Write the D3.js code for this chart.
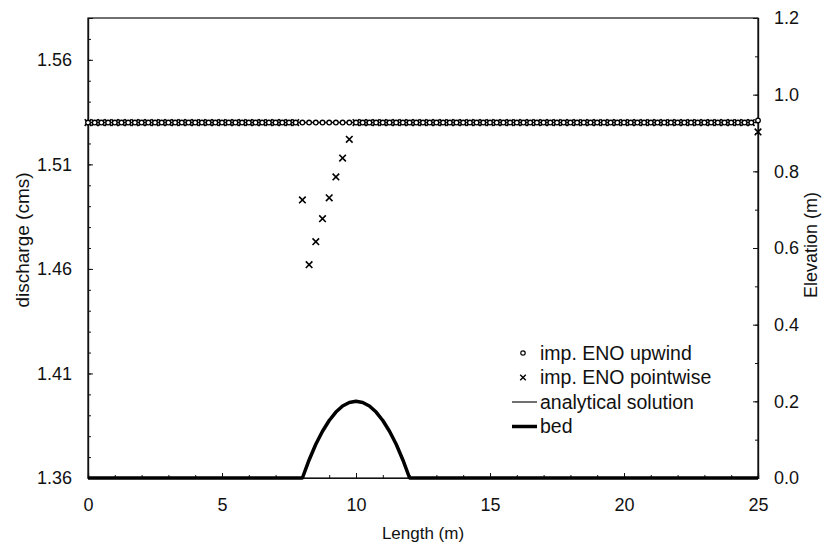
<!DOCTYPE html>
<html>
<head>
<meta charset="utf-8">
<script src="https://cdn.jsdelivr.net/npm/d3@7"></script>
<style>
  body { margin: 0; background: #fff; }
  text { font-family: "Liberation Sans", Arial, sans-serif; fill: #111; }
</style>
</head>
<body>
<svg id="chart" width="829" height="545"></svg>
<script>
// stations along the channel (m), every 0.25 m
const stations = d3.range(0, 25.001, 0.25);

// discharge, implicit ENO upwind (cms)
const upwindQ = [
  1.53, 1.53, 1.53, 1.53, 1.53, 1.53, 1.53, 1.53, 1.53, 1.53,
  1.53, 1.53, 1.53, 1.53, 1.53, 1.53, 1.53, 1.53, 1.53, 1.53,
  1.53, 1.53, 1.53, 1.53, 1.53, 1.53, 1.53, 1.53, 1.53, 1.53,
  1.53, 1.53, 1.53, 1.53, 1.53, 1.53, 1.53, 1.53, 1.53, 1.53,
  1.53, 1.53, 1.53, 1.53, 1.53, 1.53, 1.53, 1.53, 1.53, 1.53,
  1.53, 1.53, 1.53, 1.53, 1.53, 1.53, 1.53, 1.53, 1.53, 1.53,
  1.53, 1.53, 1.53, 1.53, 1.53, 1.53, 1.53, 1.53, 1.53, 1.53,
  1.53, 1.53, 1.53, 1.53, 1.53, 1.53, 1.53, 1.53, 1.53, 1.53,
  1.53, 1.53, 1.53, 1.53, 1.53, 1.53, 1.53, 1.53, 1.53, 1.53,
  1.53, 1.53, 1.53, 1.53, 1.53, 1.53, 1.53, 1.53, 1.53, 1.53,
  1.531
];

// discharge, implicit ENO pointwise (cms)
const pointwiseQ = [
  1.53, 1.53, 1.53, 1.53, 1.53, 1.53, 1.53, 1.53, 1.53, 1.53,
  1.53, 1.53, 1.53, 1.53, 1.53, 1.53, 1.53, 1.53, 1.53, 1.53,
  1.53, 1.53, 1.53, 1.53, 1.53, 1.53, 1.53, 1.53, 1.53, 1.53,
  1.53, 1.53, 1.493, 1.462, 1.473, 1.484, 1.494, 1.504, 1.513, 1.522,
  1.53, 1.53, 1.53, 1.53, 1.53, 1.53, 1.53, 1.53, 1.53, 1.53,
  1.53, 1.53, 1.53, 1.53, 1.53, 1.53, 1.53, 1.53, 1.53, 1.53,
  1.53, 1.53, 1.53, 1.53, 1.53, 1.53, 1.53, 1.53, 1.53, 1.53,
  1.53, 1.53, 1.53, 1.53, 1.53, 1.53, 1.53, 1.53, 1.53, 1.53,
  1.53, 1.53, 1.53, 1.53, 1.53, 1.53, 1.53, 1.53, 1.53, 1.53,
  1.53, 1.53, 1.53, 1.53, 1.53, 1.53, 1.53, 1.53, 1.53, 1.53,
  1.5255
];

// analytical solution (cms)
const analyticX = [0, 25];
const analyticQ = [1.53, 1.53];

// bed elevation (m)
const bedX = [0, 8, 8.25, 8.5, 8.75, 9, 9.25, 9.5, 9.75, 10,
  10.25, 10.5, 10.75, 11, 11.25, 11.5, 11.75, 12, 25];
const bedZ = [0, 0, 0.047, 0.088, 0.122, 0.15, 0.172, 0.188, 0.197, 0.2,
  0.197, 0.188, 0.172, 0.15, 0.122, 0.088, 0.047, 0, 0];

const xTicks = [0, 5, 10, 15, 20, 25];
const qTicks = [1.36, 1.41, 1.46, 1.51, 1.56];
const zTicks = [0, 0.2, 0.4, 0.6, 0.8, 1.0, 1.2];

const legendLabels = ["imp. ENO upwind", "imp. ENO pointwise", "analytical solution", "bed"];

const margin = { top: 18, right: 71, bottom: 67, left: 88 };
const svg = d3.select("#chart");
const width = 829 - margin.left - margin.right;
const height = 545 - margin.top - margin.bottom;

const g = svg.append("g")
  .attr("transform", `translate(${margin.left}, ${margin.top})`);

const x = d3.scaleLinear().domain([0, 25]).range([0, width]);
const yQ = d3.scaleLinear().domain([1.36, 1.58]).range([height, 0]);
const yZ = d3.scaleLinear().domain([0, 1.2]).range([height, 0]);

// frame
g.append("rect")
  .attr("width", width)
  .attr("height", height)
  .attr("fill", "none")
  .attr("stroke", "#111")
  .attr("stroke-width", 1.2);

// minor ticks (inward)
const minor = (axis, vals) => axis.tickValues(vals).tickSize(-3).tickFormat("");
g.append("g").attr("transform", `translate(0, ${height})`)
  .call(minor(d3.axisBottom(x), d3.range(0, 25.01, 1)));
g.append("g")
  .call(minor(d3.axisLeft(yQ), d3.range(1.36, 1.5801, 0.01)));
g.append("g").attr("transform", `translate(${width}, 0)`)
  .call(minor(d3.axisRight(yZ), d3.range(0, 1.201, 0.1)));

// major axes
g.append("g")
  .attr("transform", `translate(0, ${height})`)
  .call(d3.axisBottom(x).tickValues(xTicks).tickSize(-5).tickPadding(20).tickFormat(d3.format("d")));

g.append("g")
  .call(d3.axisLeft(yQ).tickValues(qTicks).tickSize(-5).tickPadding(16).tickFormat(d3.format(".2f")));

g.append("g")
  .attr("transform", `translate(${width}, 0)`)
  .call(d3.axisRight(yZ).tickValues(zTicks).tickSize(-5).tickPadding(16).tickFormat(d3.format(".1f")));

g.selectAll(".domain").attr("stroke", "#111").attr("stroke-width", 1.2);
g.selectAll(".tick line").attr("stroke", "#111");
g.selectAll(".tick text").style("font-size", "18px").attr("fill", "#111");

// axis titles
g.append("text")
  .attr("x", width / 2)
  .attr("y", height + 61)
  .attr("text-anchor", "middle")
  .style("font-size", "17px")
  .text("Length (m)");

g.append("text")
  .attr("transform", `translate(${22 - margin.left}, ${240 - margin.top}) rotate(-90)`)
  .attr("text-anchor", "middle")
  .attr("dy", "0.35em")
  .style("font-size", "19px")
  .text("discharge (cms)");

g.append("text")
  .attr("transform", `translate(${width + 53}, ${245 - margin.top}) rotate(-90)`)
  .attr("text-anchor", "middle")
  .attr("dy", "0.35em")
  .style("font-size", "18px")
  .text("Elevation (m)");

// analytical solution line
const lineQ = d3.line().x((d) => x(d[0])).y((d) => yQ(d[1]));
g.append("path")
  .datum(analyticX.map((d, i) => [d, analyticQ[i]]))
  .attr("d", lineQ)
  .attr("fill", "none")
  .attr("stroke", "#111")
  .attr("stroke-width", 1.4);

// bed
const lineZ = d3.line().x((d) => x(d[0])).y((d) => yZ(d[1]));
g.append("path")
  .datum(bedX.map((d, i) => [d, bedZ[i]]))
  .attr("d", lineZ)
  .attr("fill", "none")
  .attr("stroke", "#000")
  .attr("stroke-width", 3.5)
  .attr("stroke-linejoin", "round");

// pointwise x markers
const cross = d3.symbol().type(d3.symbolX).size(30);
g.append("g")
  .selectAll("path")
  .data(stations.map((d, i) => [d, pointwiseQ[i]]))
  .enter()
  .append("path")
  .attr("transform", (d) => `translate(${x(d[0])}, ${yQ(d[1])})`)
  .attr("d", cross)
  .attr("fill", "#000")
  .attr("stroke", "#000")
  .attr("stroke-width", 1.6);

// upwind circles
g.append("g")
  .selectAll("circle")
  .data(stations.map((d, i) => [d, upwindQ[i]]))
  .enter()
  .append("circle")
  .attr("cx", (d) => x(d[0]))
  .attr("cy", (d) => yQ(d[1]))
  .attr("r", 2.3)
  .attr("fill", "#fff")
  .attr("stroke", "#000")
  .attr("stroke-width", 1.3);

// legend
const legend = g.append("g").attr("transform", `translate(${512 - margin.left}, ${353 - margin.top})`);
const rows = legend.selectAll("g")
  .data(legendLabels)
  .enter()
  .append("g")
  .attr("transform", (d, i) => `translate(0, ${i * 24.5})`);

rows.append("text")
  .attr("x", 28)
  .attr("dy", "0.35em")
  .style("font-size", "19.5px")
  .text((d) => d);

rows.filter((d, i) => i === 0).append("circle")
  .attr("cx", 11).attr("r", 2.2)
  .attr("fill", "#fff").attr("stroke", "#000").attr("stroke-width", 1.2);
rows.filter((d, i) => i === 1).append("path")
  .attr("transform", "translate(11, 0)")
  .attr("d", d3.symbol().type(d3.symbolX).size(22))
  .attr("stroke", "#000").attr("stroke-width", 1.4);
rows.filter((d, i) => i === 2).append("line")
  .attr("x1", 0).attr("x2", 25)
  .attr("stroke", "#111").attr("stroke-width", 1.2);
rows.filter((d, i) => i === 3).append("line")
  .attr("x1", 0).attr("x2", 25)
  .attr("stroke", "#000").attr("stroke-width", 3.5);
</script>
</body>
</html>
